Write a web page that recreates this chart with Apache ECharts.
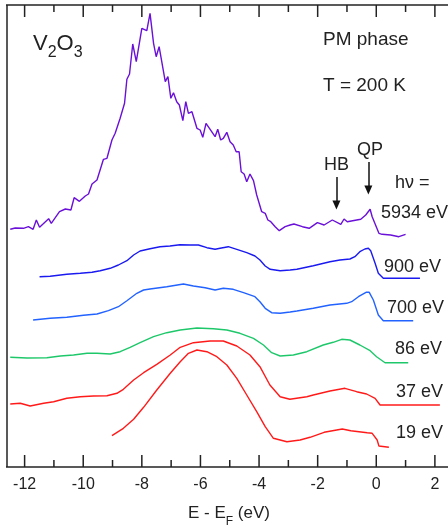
<!DOCTYPE html>
<html>
<head>
<meta charset="utf-8">
<script src="https://cdn.jsdelivr.net/npm/echarts@6/dist/echarts.min.js"></script>
<style>
  html, body { margin: 0; padding: 0; background: #fff; }
  #chart { width: 448px; height: 529px; }
</style>
</head>
<body>
<div id="chart"></div>
<script>
// binding energy E - EF (eV) and intensity (arb. units, offset per spectrum)
const e5934 = [-12.49,-12.32,-12.04,-11.87,-11.71,-11.60,-11.49,-11.18,-11.09,-10.81,-10.61,-10.42,-10.31,-10.13,-9.93,-9.82,-9.70,-9.53,-9.31,-9.19,-9.02,-8.91,-8.74,-8.59,-8.51,-8.42,-8.31,-8.19,-8.00,-7.83,-7.72,-7.60,-7.51,-7.41,-7.20,-7.11,-7.01,-6.92,-6.81,-6.72,-6.60,-6.50,-6.41,-6.29,-6.12,-6.01,-5.92,-5.81,-5.50,-5.41,-5.31,-5.22,-5.10,-4.99,-4.88,-4.78,-4.68,-4.61,-4.51,-4.42,-4.31,-4.19,-4.08,-3.91,-3.79,-3.70,-3.60,-3.45,-3.31,-3.11,-2.94,-2.81,-2.52,-2.29,-2.01,-1.78,-1.50,-1.21,-1.10,-0.99,-0.53,-0.36,-0.21,-0.14,0.09,0.20,0.49,0.77,1.00];
const i5934 = [237.7,239,238.7,240.3,237.7,247,239.7,248.3,243.7,255.3,258,257,269.3,265.7,271,273,283,287,307.7,308.7,327,333.7,348.7,363.7,387.7,393,423,405.3,438.7,436.3,453.7,423.7,410.3,420.3,385.3,390.3,368.7,374.3,365.3,362,346.3,365.3,353.7,355.3,338.7,337,329.7,343.7,330.3,337.7,327,328.7,334.7,325.3,322,315.3,315.3,295.3,293,285.3,293,286.3,272,255.3,253.7,247,245.3,240.3,236.3,240.3,242,243,240.3,238.7,244.3,242,247,242.7,248,245.3,247.7,252,257.7,250.3,233.7,232.7,232,230.3,232.7];

const e900 = [-11.49,-11.13,-10.56,-10.10,-9.70,-9.42,-9.08,-8.80,-8.51,-8.28,-8.06,-7.72,-7.38,-7.04,-6.70,-6.35,-6.07,-5.78,-5.50,-5.33,-5.05,-4.76,-4.42,-4.14,-3.97,-3.79,-3.62,-3.28,-2.94,-2.71,-2.15,-1.58,-1.24,-0.90,-0.73,-0.56,-0.39,-0.27,-0.19,-0.04,0.07,0.24,1.49];
const i900 = [190.3,190.7,192.7,193.7,194.7,196.3,198.7,202,206.3,212,216,218.3,220.3,221,222.3,222,222,219.3,217.7,218.7,220.3,217.7,214.3,211,207,201,197.7,196.3,197,197.7,201.3,205.3,207,208,210.3,215.3,218,218.7,216.3,203.7,193.7,188.7,188.7];

const e700 = [-11.71,-11.13,-10.56,-9.99,-9.53,-9.14,-8.80,-8.51,-8.17,-7.94,-7.72,-7.15,-6.58,-6.24,-5.84,-5.50,-5.22,-4.88,-4.53,-4.14,-3.97,-3.79,-3.57,-3.28,-2.94,-2.71,-2.15,-1.58,-1.01,-0.84,-0.61,-0.35,-0.24,-0.10,0.07,0.24,1.26];
const i700 = [147,148.7,149.7,151.7,153,156.3,160.3,166.3,173.7,177,178,180.3,183,181,179.3,177,178.7,177.7,174.3,170.3,165.3,158.7,154.3,153.7,155,156,158.7,162,163.7,165.3,170.3,174.7,174.7,167,152,146.3,146.3];

const e86 = [-12.49,-11.92,-11.24,-10.78,-10.33,-9.87,-9.53,-9.08,-8.74,-8.40,-8.06,-7.60,-7.15,-6.69,-6.12,-5.56,-5.10,-4.65,-4.19,-3.85,-3.57,-3.28,-2.83,-2.37,-1.81,-1.47,-1.18,-0.90,-0.56,-0.21,0.01,0.30,1.09];
const i86 = [109.7,109,109.3,111,112,113.7,113.7,113,115.3,119.7,124.3,130.3,134.3,137,139,138.3,137,133.7,128.7,122,114.3,111,112,115.3,122,124.7,127.7,127,122,116.3,110.3,104.3,104.3];

const e37 = [-12.49,-12.15,-11.81,-11.35,-11.01,-10.56,-10.10,-9.65,-9.19,-8.85,-8.63,-8.28,-7.94,-7.49,-7.03,-6.69,-6.24,-5.67,-5.22,-4.76,-4.31,-3.97,-3.63,-3.28,-2.95,-2.37,-2.15,-1.58,-1.07,-0.67,-0.33,-0.04,0.13,2.17];
const i37 = [63,63.7,61,63.7,65.3,68.7,70.3,71,71.3,73.7,77.7,87,94.3,102.7,112,119.7,124.3,126,126,121,112,100.3,82,70.3,67.7,70.3,72,76,78.7,75.3,73,68.7,62,62];

const e19 = [-9.02,-8.63,-8.28,-7.94,-7.49,-7.03,-6.69,-6.41,-6.12,-5.78,-5.44,-5.10,-4.76,-4.42,-4.08,-3.79,-3.51,-3.05,-2.60,-2.26,-1.78,-1.16,-0.87,-0.31,-0.14,0.03,0.09,0.43];
const i19 = [31.3,38.7,47.7,59.7,77,93.7,105.3,113.7,117,115.3,110.3,102,88.7,72,55.3,40.3,28.7,25.3,27,29.7,34.7,38,36.3,34.3,33.7,27,21,19.7];

const majorTicks = [-12, -10, -8, -6, -4, -2, 0, 2];
const minorTicks = [-11, -9, -7, -5, -3, -1, 1];

// visible window of the plot (the frame starts at xLeft and runs off the right edge)
const xLeft = -12.6, xRight = 2.5, yTop = 462;

const font = 'Liberation Sans, Arial, Helvetica, sans-serif';
const ink = '#222';

function zip(xs, ys) { return xs.map((x, i) => [x, ys[i]]); }

const chart = echarts.init(document.getElementById('chart'), null, { renderer: 'canvas' });

// axis runs -14..4 so the labels land on even numbers; the grid overhangs the canvas
function frameAxis(pos, labels) {
    return {
        type: 'value', min: -14, max: 4, interval: 2, position: pos,
        splitLine: { show: false },
        axisLine: { show: true, onZero: false, lineStyle: { color: ink, width: 1.5 } },
        axisTick: { show: false },
        axisLabel: labels
            ? { show: true, fontSize: 16, margin: 10, color: ink, fontFamily: font,
                formatter: v => (v < xLeft || v > xRight) ? '' : String(v) }
            : { show: false }
    };
}

function spec(name, xs, ys, color, extra) {
    return Object.assign({
        name: name, type: 'line', data: zip(xs, ys), showSymbol: false, smooth: false,
        lineStyle: { color: color, width: 1.4 }, itemStyle: { color: color }
    }, extra || {});
}

const texts = [
    // trim the axis lines left of the frame
    { type: 'rect', left: 0, top: 0, shape: { width: 6, height: 20 }, style: { fill: '#fff' }, z: 100 },
    { type: 'rect', left: 0, top: 450, shape: { width: 6, height: 22 }, style: { fill: '#fff' }, z: 100 },
    { type: 'text', left: 33, top: 33, style: {
        text: '{a|V}{b|2}{a|O}{b|3}', fill: ink,
        rich: {
            a: { fontSize: 22, fontFamily: font, lineHeight: 28, verticalAlign: 'top', fill: ink },
            b: { fontSize: 16, fontFamily: font, lineHeight: 16, padding: [12, 0, 0, 0], verticalAlign: 'top', fill: ink }
        } } },
    { type: 'text', left: 323, top: 30, style: { text: 'PM phase', font: '19px ' + font, fill: ink } },
    { type: 'text', left: 323, top: 76, style: { text: 'T = 200 K', font: '19px ' + font, fill: ink } },
    { type: 'text', left: 324, top: 156, style: { text: 'HB', font: '18px ' + font, fill: ink } },
    { type: 'text', left: 357, top: 141, style: { text: 'QP', font: '18px ' + font, fill: ink } },
    { type: 'text', left: 395, top: 174, style: { text: 'hν =', font: '18px ' + font, fill: ink } },
    { type: 'text', left: 381, top: 204, style: { text: '5934 eV', font: '18px ' + font, fill: ink } },
    { type: 'text', left: 384, top: 258, style: { text: '900 eV', font: '18px ' + font, fill: ink } },
    { type: 'text', left: 387, top: 299, style: { text: '700 eV', font: '18px ' + font, fill: ink } },
    { type: 'text', left: 395, top: 340, style: { text: '86 eV', font: '18px ' + font, fill: ink } },
    { type: 'text', left: 396, top: 383, style: { text: '37 eV', font: '18px ' + font, fill: ink } },
    { type: 'text', left: 396, top: 424, style: { text: '19 eV', font: '18px ' + font, fill: ink } },
    { type: 'text', left: 188, top: 505, style: {
        text: '{a|E - E}{b|F}{a| (eV)}', fill: ink,
        rich: {
            a: { fontSize: 17, fontFamily: font, lineHeight: 22, verticalAlign: 'top', fill: ink },
            b: { fontSize: 12, fontFamily: font, lineHeight: 12, padding: [11, 0, 0, 0], verticalAlign: 'top', fill: ink }
        } } }
];

const option = {
    animation: false,
    grid: { left: -34, top: 5, bottom: 62, right: -45.5, outerBoundsMode: 'none' },
    xAxis: [frameAxis('bottom', true), frameAxis('top', false)],
    yAxis: {
        type: 'value', min: 0, max: yTop,
        axisLine: { show: false }, axisTick: { show: false }, axisLabel: { show: false }, splitLine: { show: false }
    },
    series: [
        spec('5934 eV', e5934, i5934, '#6a10d8', {
            markLine: {
                silent: true, symbol: ['none', 'triangle'], symbolSize: [8, 9],
                label: { show: false },
                lineStyle: { color: '#111', width: 1.5, type: 'solid' },
                data: [
                    [{ coord: [-1.36, 290] }, { coord: [-1.36, 262] }],
                    [{ coord: [-0.27, 305] }, { coord: [-0.27, 277] }]
                ]
            }
        }),
        spec('900 eV', e900, i900, '#1a1af0'),
        spec('700 eV', e700, i700, '#2262ff'),
        spec('86 eV', e86, i86, '#1ec86a'),
        spec('37 eV', e37, i37, '#ff1a1a'),
        spec('19 eV', e19, i19, '#ff1a1a', {
            // left edge of the frame
            markLine: {
                silent: true, symbol: 'none', label: { show: false },
                lineStyle: { color: ink, width: 1.5, type: 'solid' },
                data: [[{ coord: [xLeft, 0] }, { coord: [xLeft, yTop] }]]
            }
        })
    ],
    graphic: texts
};

chart.setOption(option);

// inward ticks on bottom and top edges, placed through the chart's own x scale
function tickLines(ticks, len) {
    const out = [];
    ticks.forEach(t => {
        const b = chart.convertToPixel({ gridIndex: 0 }, [t, 0]);
        const top = chart.convertToPixel({ gridIndex: 0 }, [t, yTop]);
        out.push({ type: 'line', z: 100, shape: { x1: b[0], y1: b[1], x2: b[0], y2: b[1] - len }, style: { stroke: ink, lineWidth: 1.5 } });
        out.push({ type: 'line', z: 100, shape: { x1: top[0], y1: top[1], x2: top[0], y2: top[1] + len }, style: { stroke: ink, lineWidth: 1.5 } });
    });
    return out;
}
chart.setOption({ graphic: texts.concat(tickLines(majorTicks, 12), tickLines(minorTicks, 7)) });
</script>
</body>
</html>
